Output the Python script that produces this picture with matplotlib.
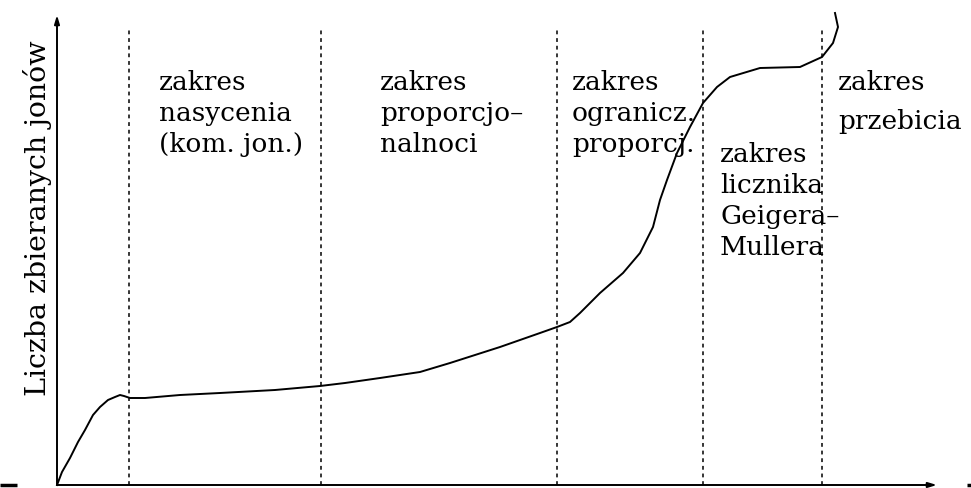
import matplotlib
matplotlib.use("Agg")
import matplotlib.pyplot as plt

# curve: number of collected ions vs voltage (arbitrary units)
voltage = [0, 5, 13, 21, 28, 36, 43, 51, 58, 63, 67, 73, 88, 123, 163, 218, 263,
           288, 323, 363, 393, 443, 483, 500, 513, 523, 543, 566, 583, 596, 603,
           610, 620, 633, 646, 660, 673, 703, 743, 765, 776, 781, 778]
ions = [0, 13, 27, 43, 55, 70, 78, 85, 88, 90, 89, 87, 87, 90, 92, 95, 99,
        102, 107, 113, 122, 138, 152, 158, 163, 172, 192, 212, 232, 258, 285,
        305, 332, 358, 382, 398, 408, 417, 418, 428, 442, 458, 472]

# region boundaries
boundaries = [72, 264, 500, 646, 765]
boundary_top = 455

# region labels: (x, top, text)
labels = [
    (102, 415, "zakres\nnasycenia\n(kom. jon.)"),
    (323, 415, "zakres\nproporcjo\u2013\nnalnoci"),
    (515, 415, "zakres\nogranicz.\nproporcj."),
    (663, 343, "zakres\nlicznika\nGeigera\u2013\nMullera"),
    (781, 415, "zakres"),
    (781, 376, "przebicia"),
]
ylabel = "Liczba zbieranych jonów"

x_end = 880
y_end = 470

fig = plt.figure(figsize=(9.71, 4.88), dpi=100)
ax = fig.add_axes([0, 0, 1, 1])
ax.set_xlim(-57, 914)
ax.set_ylim(-3, 485)
ax.axis("off")

font = dict(family=["DejaVu Serif"], color="black")

# axes with arrows
ax.annotate("", xy=(0, y_end), xytext=(0, 0),
            arrowprops=dict(arrowstyle="-|>,head_length=0.5,head_width=0.15",
                            lw=1.4, color="black", shrinkA=0, shrinkB=0))
ax.annotate("", xy=(x_end, 0), xytext=(0, 0),
            arrowprops=dict(arrowstyle="-|>,head_length=0.5,head_width=0.15",
                            lw=1.4, color="black", shrinkA=0, shrinkB=0))
# stray marks at the bottom corners
ax.plot([-57, -40], [0, 0], color="black", lw=2.5, solid_capstyle="butt")
ax.plot([910, 914], [0, 0], color="black", lw=2.5, solid_capstyle="butt")

for b in boundaries:
    ax.plot([b, b], [0, boundary_top], color="black", lw=1.1,
            linestyle=(0, (2.5, 2.5)))

ax.plot(voltage, ions, color="black", lw=1.4)

for x, top, txt in labels:
    ax.text(x, top, txt, ha="left", va="top", fontsize=19, linespacing=1.3, **font)

ax.text(-20, 267, ylabel, rotation=90, ha="center", va="center", fontsize=20.5, **font)

fig.savefig("out.png", dpi=100)
